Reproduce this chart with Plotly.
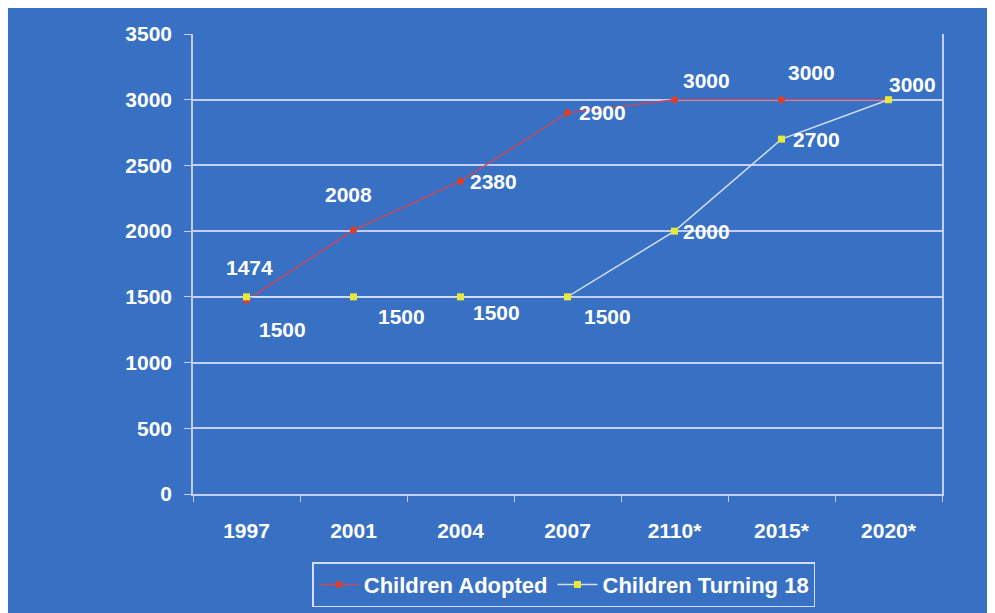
import plotly.graph_objects as go

categories = ["1997", "2001", "2004", "2007", "2110*", "2015*", "2020*"]
adopted = [1474, 2008, 2380, 2900, 3000, 3000, 3000]
turning18 = [1500, 1500, 1500, 1500, 2000, 2700, 3000]
y_ticks = [0, 500, 1000, 1500, 2000, 2500, 3000, 3500]

# label offsets (pixels: dx, dy up)
adopted_off = [(3, 33), (-5, 36), (33, 0), (35, 0), (32, 19), (30, 27), (24, 15)]
turning_off = [(36, -33), (48, -20), (36, -16), (40, -20), (32, 0), (35, 0), None]

BG = "#3871c4"
GRID = "#c4cdf2"
FONT = "Liberation Sans, Arial, sans-serif"
W, H = 995, 613
ML, MR, MT, MB = 185, 61, 26, 127

fig = go.Figure()
fig.add_trace(go.Scatter(
    x=categories, y=adopted, name="Children Adopted", mode="lines+markers",
    line=dict(color="#c8475e", width=1.5),
    marker=dict(color="#d8402c", size=7, symbol="circle"),
))
fig.add_trace(go.Scatter(
    x=categories, y=turning18, name="Children Turning 18", mode="lines+markers",
    line=dict(color="#d2ddf5", width=1.5),
    marker=dict(color="#e6e83a", size=7, symbol="square"),
))

lab_font = dict(family=FONT, size=21, color="white", weight="bold")
for vals, offs in ((adopted, adopted_off), (turning18, turning_off)):
    for i, (v, o) in enumerate(zip(vals, offs)):
        if o is None:
            continue
        fig.add_annotation(x=i, y=v, xref="x", yref="y", text=str(v), showarrow=False,
                           xshift=o[0], yshift=o[1], font=lab_font)

fig.update_layout(
    width=W, height=H,
    margin=dict(l=ML, r=MR, t=MT, b=MB, pad=0),
    paper_bgcolor=BG, plot_bgcolor=BG,
    font=dict(family=FONT, size=21, color="white", weight="bold"),
    showlegend=True,
    legend=dict(orientation="h", x=0.495, xanchor="center", y=-0.148, yanchor="top",
                bordercolor="#d6dcf6", borderwidth=1.5, bgcolor=BG,
                font=dict(family=FONT, size=22, color="white", weight="bold"),
                itemwidth=40, tracegroupgap=0),
    xaxis=dict(type="category", categoryorder="array", categoryarray=categories,
               range=[-0.5, len(categories) - 0.5],
               showgrid=False, showline=True, linecolor=GRID, linewidth=1.5,
               ticks="outside", tickson="boundaries", ticklen=6, tickcolor=GRID,
               ticklabelstandoff=17, zeroline=False, mirror=False, tickangle=0,
               tickfont=dict(family=FONT, size=21, color="white", weight="bold")),
    yaxis=dict(range=[0, 3500], tickvals=y_ticks, showgrid=True, gridcolor=GRID, gridwidth=1.5,
               showline=True, linecolor=GRID, linewidth=1.5, mirror=True,
               ticks="outside", ticklen=7, tickcolor=GRID, ticklabelstandoff=8,
               zeroline=False,
               tickfont=dict(family=FONT, size=21, color="white", weight="bold")),
)

fig.write_html("out.html")
